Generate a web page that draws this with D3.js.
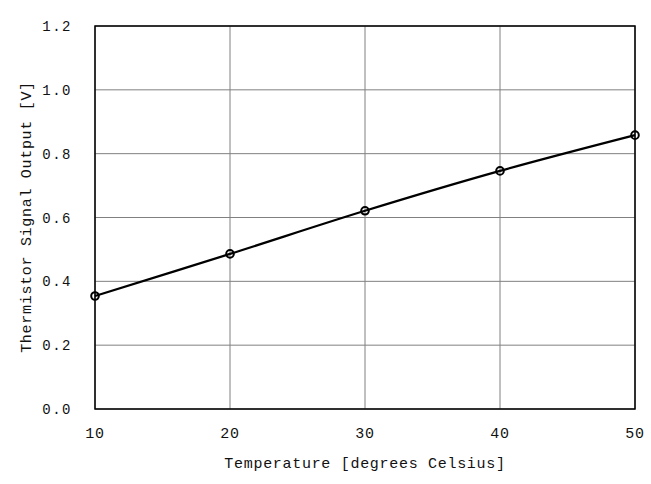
<!DOCTYPE html>
<html>
<head>
<meta charset="utf-8">
<script src="https://cdn.jsdelivr.net/npm/d3@7"></script>
<style>
  body { margin: 0; background: #fff; }
  text { font-family: "Liberation Mono", "DejaVu Sans Mono", monospace; font-size: 15px; letter-spacing: 0.7px; fill: #111; }
  text.ytick { font-size: 14px; letter-spacing: 1.5px; }
</style>
</head>
<body>
<svg id="chart"></svg>
<script>
// values
const temps = [10, 20, 30, 40, 50];
const volts = [0.354, 0.486, 0.621, 0.746, 0.858];
const xTicks = [10, 20, 30, 40, 50];
const yTicks = [0, 0.2, 0.4, 0.6, 0.8, 1.0, 1.2];

const w = 651, h = 484;
const svg = d3.select("#chart").attr("width", w).attr("height", h);

const x = d3.scaleLinear().domain([10, 50]).range([95, 635]);
const y = d3.scaleLinear().domain([0, 1.2]).range([409, 26]);

// grid
svg.append("g")
  .selectAll("line.v")
  .data(xTicks)
  .enter()
  .append("line")
  .attr("x1", d => x(d)).attr("x2", d => x(d))
  .attr("y1", y(0)).attr("y2", y(1.2))
  .style("stroke", "#808080").style("stroke-width", 1);

svg.append("g")
  .selectAll("line.h")
  .data(yTicks)
  .enter()
  .append("line")
  .attr("x1", x(10)).attr("x2", x(50))
  .attr("y1", d => y(d)).attr("y2", d => y(d))
  .style("stroke", "#808080").style("stroke-width", 1);

// frame
svg.append("rect")
  .attr("x", x(10)).attr("y", y(1.2))
  .attr("width", x(50) - x(10)).attr("height", y(0) - y(1.2))
  .style("fill", "none").style("stroke", "#000").style("stroke-width", 1.5);

// tick labels
svg.append("g")
  .selectAll("text")
  .data(yTicks)
  .enter()
  .append("text")
  .attr("class", "ytick")
  .attr("x", 72)
  .attr("y", d => y(d) + 5)
  .attr("text-anchor", "end")
  .text(d => d3.format(".1f")(d));

svg.append("g")
  .selectAll("text")
  .data(xTicks)
  .enter()
  .append("text")
  .attr("x", d => x(d))
  .attr("y", 438)
  .attr("text-anchor", "middle")
  .text(d => d);

// axis titles
svg.append("text")
  .attr("x", 365).attr("y", 468)
  .attr("text-anchor", "middle")
  .text("Temperature [degrees Celsius]");

svg.append("text")
  .attr("transform", "translate(31,217) rotate(-90)")
  .attr("text-anchor", "middle")
  .text("Thermistor Signal Output [V]");

// series
const pts = temps.map((t, i) => [t, volts[i]]);
const line = d3.line()
  .x(d => x(d[0]))
  .y(d => y(d[1]))
  .curve(d3.curveCatmullRom);

svg.append("path")
  .datum(pts)
  .attr("d", line)
  .style("fill", "none").style("stroke", "#000").style("stroke-width", 2.2);

svg.append("g")
  .selectAll("circle")
  .data(pts)
  .enter()
  .append("circle")
  .attr("cx", d => x(d[0]))
  .attr("cy", d => y(d[1]))
  .attr("r", 3.8)
  .style("fill", "none").style("stroke", "#000").style("stroke-width", 2);
</script>
</body>
</html>
